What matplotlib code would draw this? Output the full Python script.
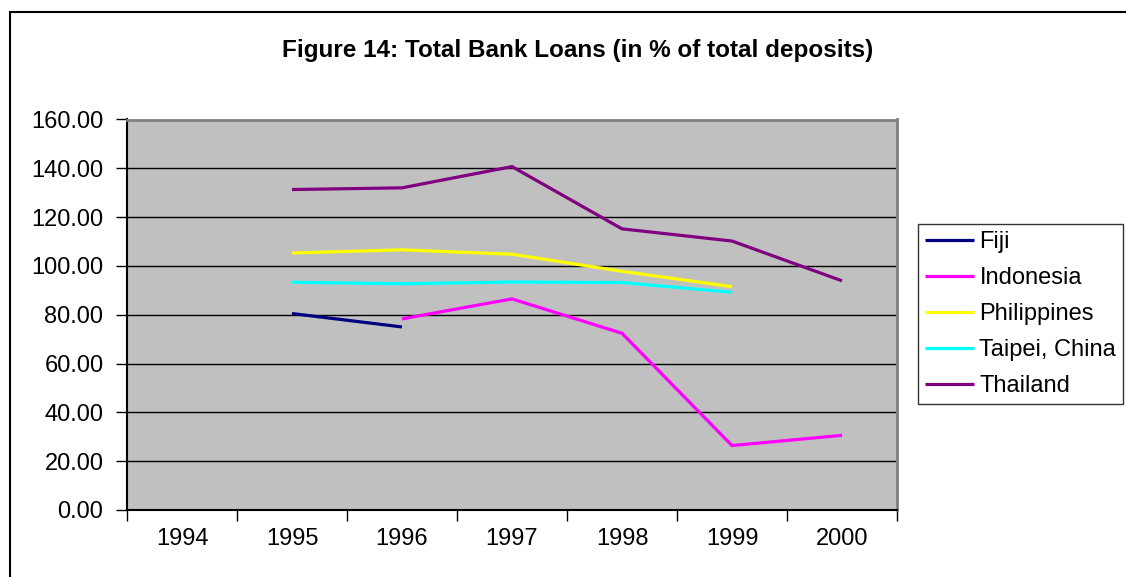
import numpy as np
import matplotlib
matplotlib.use("Agg")
import matplotlib.pyplot as plt
from matplotlib.patches import Rectangle

plt.rcParams['font.family'] = ['Liberation Sans', 'DejaVu Sans']

years = ['1994', '1995', '1996', '1997', '1998', '1999', '2000']
nan = np.nan
fiji = [nan, 80.5, 75.0, nan, nan, nan, nan]
indonesia = [nan, nan, 78.3, 86.5, 72.4, 26.4, 30.6]
philippines = [nan, 105.3, 106.6, 104.8, 97.8, 91.5, nan]
taipei = [nan, 93.3, 92.7, 93.4, 93.2, 89.2, nan]
thailand = [nan, 131.3, 132.0, 140.7, 115.2, 110.2, 93.9]

series = [
    ('Fiji', fiji, '#000080'),
    ('Indonesia', indonesia, '#FF00FF'),
    ('Philippines', philippines, '#FFFF00'),
    ('Taipei, China', taipei, '#00FFFF'),
    ('Thailand', thailand, '#800080'),
]

W, H = 1126, 577
fig = plt.figure(figsize=(W / 100, H / 100), dpi=100)

# outer chart frame
fig.patches.append(Rectangle((9.5 / W, -0.1), 1.2, 1 - 12 / H + 0.1,
                             transform=fig.transFigure, fill=False,
                             edgecolor='black', linewidth=1.5))

ax = fig.add_axes([127 / W, 1 - 510 / H, (897 - 127) / W, (510 - 119.5) / H])
ax.set_facecolor('#C0C0C0')

x = np.arange(len(years)) + 0.5
for name, vals, col in series:
    ax.plot(x, vals, color=col, linewidth=2.3, label=name,
            solid_joinstyle='miter', solid_capstyle='butt')

ax.set_xlim(0, len(years))
ax.set_ylim(0, 160)
ax.set_yticks(np.arange(0, 161, 20))
ax.set_yticklabels([f'{v:.2f}' for v in np.arange(0, 161, 20)])
ax.set_xticks(np.arange(0, len(years) + 1))
ax.set_xticklabels([])
ax.set_xticks(x, minor=True)
ax.set_xticklabels(years, minor=True)
ax.tick_params(axis='x', which='minor', length=0, pad=13, labelsize=17)
ax.tick_params(axis='x', which='major', length=8, width=1, direction='out', color='black')
ax.tick_params(axis='y', length=8, width=1, direction='out', pad=9, labelsize=17)

ax.yaxis.grid(True, color='black', linewidth=1)
ax.set_axisbelow(True)

for side in ('top', 'right'):
    ax.spines[side].set_color('#808080')
    ax.spines[side].set_linewidth(2)
for side in ('left', 'bottom'):
    ax.spines[side].set_color('black')
    ax.spines[side].set_linewidth(1.5)

fig.text(578 / W, 1 - 51 / H, 'Figure 14: Total Bank Loans (in % of total deposits)',
         ha='center', va='center', fontsize=17.5, fontweight='bold')

leg = fig.legend(loc='upper left', bbox_to_anchor=(918 / W, 1 - 224 / H),
                 bbox_transform=fig.transFigure, fontsize=17, frameon=True,
                 fancybox=False, edgecolor='black', handlelength=2.08,
                 handletextpad=0.22, labelspacing=0.59, borderpad=0.3,
                 borderaxespad=0)
leg.get_frame().set_linewidth(1)

fig.savefig('out.png', dpi=100)
